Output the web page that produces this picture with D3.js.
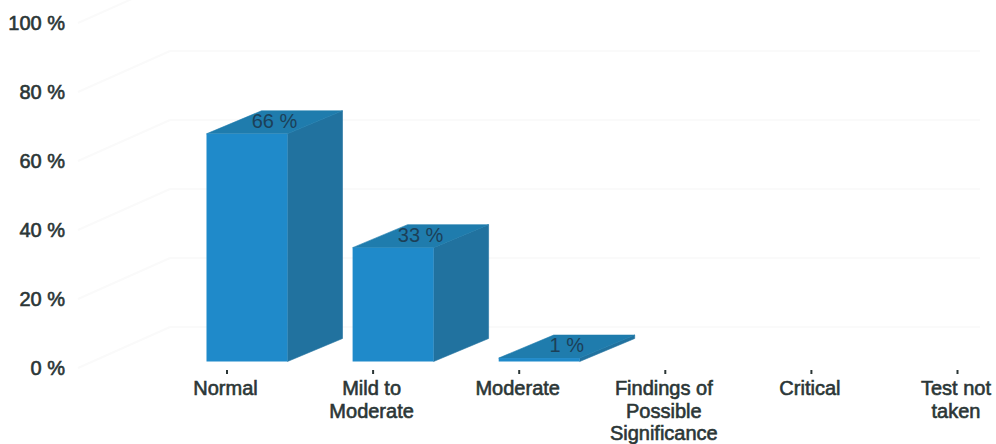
<!DOCTYPE html>
<html>
<head>
<meta charset="utf-8">
<script src="https://cdn.jsdelivr.net/npm/d3@7"></script>
<style>
  html, body { margin: 0; padding: 0; background: #fff; }
  svg { display: block; }
  text { font-family: "Liberation Sans", Arial, sans-serif; }
</style>
</head>
<body>
<svg id="chart" width="996" height="444"></svg>
<script>
const categories = ["Normal", "Mild to Moderate", "Moderate", "Findings of Possible Significance", "Critical", "Test not taken"];
const categoryLines = [["Normal"], ["Mild to", "Moderate"], ["Moderate"], ["Findings of", "Possible", "Significance"], ["Critical"], ["Test not", "taken"]];
const values = [66, 33, 1, 0, 0, 0];
const yTicks = [0, 20, 40, 60, 80, 100];

const colors = { front: "#1f8aca", side: "#21729f", top: "#1f7cad", ink: "#2b3636", wall: "#fafafa" };

const svg = d3.select("#chart");
const y = d3.scaleLinear().domain([0, 100]).range([361.5, 16.5]);
const x = d3.scalePoint().domain(categories).range([226.5, 957]);

// Isometric extrusion of each column and the front-edge inset from its tick
const depth = { dx: 55, dy: -23 };
const barWidth = 81;
const barInset = 20;
const wallShift = -34.5;
const labelShift = 6.5;
const fontSize = 20;

// Faint back wall: horizontal rules and the receding side-wall edges
const wall = svg.append("g").attr("fill", "none").attr("stroke", colors.wall).attr("stroke-width", 2);
wall.selectAll("line.rule").data(yTicks.slice(0, 5)).join("line")
  .attr("class", "rule")
  .attr("x1", 170).attr("x2", 980)
  .attr("y1", d => y(d) + wallShift).attr("y2", d => y(d) + wallShift);
wall.selectAll("line.edge").data(yTicks).join("line")
  .attr("class", "edge")
  .attr("x1", 78).attr("x2", 170)
  .attr("y1", d => y(d) + labelShift).attr("y2", d => y(d) + wallShift);

// Value axis: labels only, the axis line is not drawn
const yAxis = d3.axisLeft(y).tickValues(yTicks).tickSize(0).tickPadding(0).tickFormat(d => d + " %");
svg.append("g")
  .attr("transform", `translate(65,${labelShift})`)
  .call(yAxis)
  .call(g => g.select(".domain").remove())
  .call(g => g.selectAll("text")
    .attr("font-size", fontSize)
    .attr("font-family", "Liberation Sans, Arial, sans-serif")
    .attr("fill", colors.ink)
    .attr("stroke", colors.ink).attr("stroke-width", 0.6));

// Category axis: short ticks and wrapped labels
const xAxis = d3.axisBottom(x).tickSize(4).tickFormat("");
svg.append("g")
  .attr("transform", "translate(0,370)")
  .call(xAxis)
  .call(g => g.select(".domain").remove())
  .call(g => g.selectAll("line").attr("stroke", colors.ink).attr("stroke-width", 2));

const catLabels = svg.append("g").selectAll("text").data(categories).join("text")
  .attr("text-anchor", "middle")
  .attr("font-size", fontSize)
  .attr("fill", colors.ink)
  .attr("stroke", colors.ink).attr("stroke-width", 0.6);
catLabels.each(function (d, i) {
  d3.select(this).selectAll("tspan").data(categoryLines[i]).join("tspan")
    .attr("x", x(d) - 1)
    .attr("y", (_, k) => 395 + k * 22.5)
    .text(t => t);
});

// Columns: only non-zero values get a block
const bars = categories.map((c, i) => ({ c, v: values[i] })).filter(d => d.v > 0);
const path = pts => "M" + pts.map(p => p.join(",")).join("L") + "Z";
const left = d => x(d.c) - barInset;
const right = d => left(d) + barWidth;
const col = svg.append("g").selectAll("g").data(bars).join("g");

col.append("path").attr("fill", colors.side).attr("stroke", colors.side).attr("stroke-width", 0.6).attr("d", d => path([
  [right(d), y(0)], [right(d) + depth.dx, y(0) + depth.dy],
  [right(d) + depth.dx, y(d.v) + depth.dy], [right(d), y(d.v)]
]));
col.append("path").attr("fill", colors.top).attr("stroke", colors.top).attr("stroke-width", 0.6).attr("d", d => path([
  [left(d), y(d.v)], [left(d) + depth.dx, y(d.v) + depth.dy],
  [right(d) + depth.dx, y(d.v) + depth.dy], [right(d), y(d.v)]
]));
col.append("rect").attr("fill", colors.front)
  .attr("x", left).attr("y", d => y(d.v))
  .attr("width", barWidth).attr("height", d => y(0) - y(d.v));

col.append("text")
  .attr("x", d => left(d) + 68)
  .attr("y", d => y(d.v) - 6)
  .attr("text-anchor", "middle")
  .attr("font-size", fontSize)
  .attr("fill", "#1c4058")
  .text(d => d.v + " %");
</script>
</body>
</html>
